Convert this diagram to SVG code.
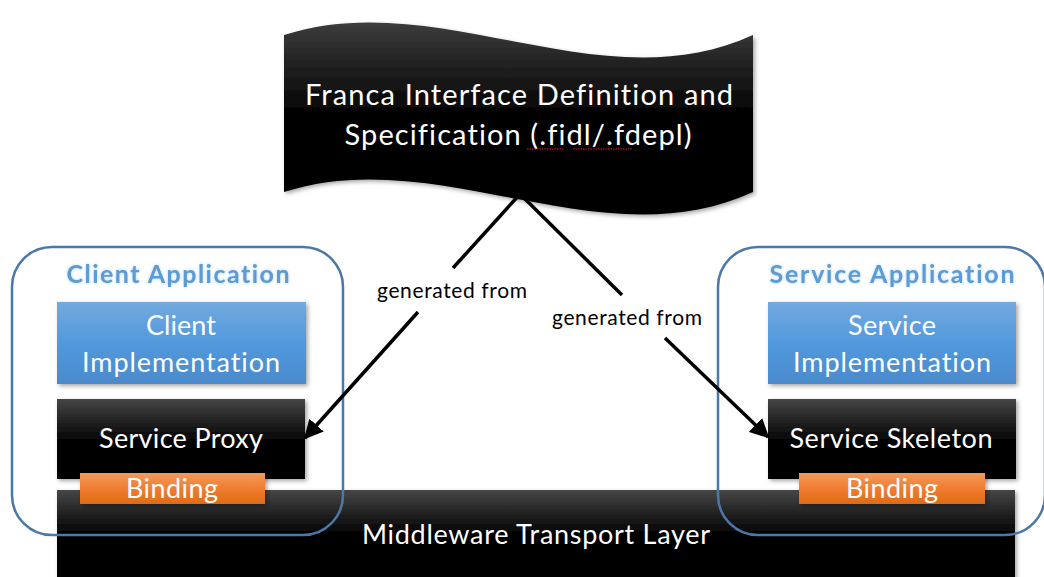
<svg xmlns="http://www.w3.org/2000/svg" width="1044" height="577" viewBox="0 0 1044 577">
  <defs>
    <linearGradient id="gDark" x1="0" y1="0" x2="0" y2="1">
      <stop offset="0" stop-color="#454545"/>
      <stop offset="0.55" stop-color="#000"/>
      <stop offset="1" stop-color="#000"/>
    </linearGradient>
    <linearGradient id="gWave" x1="0" y1="0" x2="0" y2="1">
      <stop offset="0" stop-color="#3c3c3c"/>
      <stop offset="0.5" stop-color="#000"/>
      <stop offset="1" stop-color="#000"/>
    </linearGradient>
    <linearGradient id="gMid" x1="0" y1="0" x2="0" y2="1">
      <stop offset="0" stop-color="#464646"/>
      <stop offset="0.5" stop-color="#000"/>
      <stop offset="1" stop-color="#000"/>
    </linearGradient>
    <linearGradient id="gBlue" x1="0" y1="0" x2="0" y2="1">
      <stop offset="0" stop-color="#73a9de"/>
      <stop offset="0.5" stop-color="#5199dd"/>
      <stop offset="1" stop-color="#4a8acc"/>
    </linearGradient>
    <linearGradient id="gOrange" x1="0" y1="0" x2="0" y2="1">
      <stop offset="0" stop-color="#f49a5c"/>
      <stop offset="0.5" stop-color="#f07d30"/>
      <stop offset="1" stop-color="#e06b15"/>
    </linearGradient>
    <filter id="shadow" x="-10%" y="-10%" width="125%" height="130%">
      <feDropShadow dx="2" dy="2" stdDeviation="2" flood-color="#000" flood-opacity="0.35"/>
    </filter>
    <filter id="glow" x="-10%" y="-30%" width="120%" height="160%">
      <feGaussianBlur in="SourceAlpha" stdDeviation="1.5" result="b"/>
      <feFlood flood-color="#5b9bd5" flood-opacity="0.45"/>
      <feComposite in2="b" operator="in" result="g"/>
      <feMerge><feMergeNode in="g"/><feMergeNode in="SourceGraphic"/></feMerge>
    </filter>
    <marker id="arrow" viewBox="0 0 10 10" refX="9" refY="5" markerWidth="5.5" markerHeight="5.5" orient="auto" markerUnits="strokeWidth">
      <path d="M0,0 L10,5 L0,10 Z" fill="#000"/>
    </marker>
    <style>
      text { font-family: Lato, "Open Sans", "Liberation Sans", sans-serif; font-variant-ligatures: none; }
      .w { fill: #fff; text-anchor: middle; }
      .big { font-size: 29px; }
      .mid { font-size: 27px; }
      .title { fill: #5b9bd5; font-size: 25px; font-weight: bold; text-anchor: middle; }
      .lbl { fill: #000; font-size: 21px; text-anchor: middle; }
      .app { fill: none; stroke: #4a78a8; stroke-width: 2.5; }
      .conn { stroke: #000; stroke-width: 3.5; fill: none; }
      .squig { stroke: #e02020; stroke-width: 1; stroke-dasharray: 1.5 1; fill: none; }
    </style>
  </defs>

  <rect width="1044" height="577" fill="#fff"/>

  <g id="middleware">
    <rect x="57" y="490" width="958" height="90" fill="url(#gMid)" filter="url(#shadow)"/>
    <text class="w mid" x="536" y="544" textLength="348">Middleware Transport Layer</text>
  </g>

  <g id="franca">
    <path d="M284,35 C440,-15 600,105 753,35 L753,192 C600,262 440,142 284,192 Z" fill="url(#gWave)" filter="url(#shadow)"/>
    <text class="w big" x="519" y="105" textLength="428">Franca Interface Definition and</text>
    <text class="w big" x="518" y="145" textLength="347">Specification (.fidl/.fdepl)</text>
    <path class="squig" d="M527,149 L563,149 M573,149 L633,149"/>
  </g>

  <g id="client-impl">
    <rect x="57" y="302" width="249" height="82" fill="url(#gBlue)" filter="url(#shadow)"/>
    <text class="w mid" x="181" y="335" textLength="70">Client</text>
    <text class="w mid" x="181" y="372" textLength="198">Implementation</text>
  </g>

  <g id="service-proxy">
    <rect x="57" y="399" width="248" height="80" fill="url(#gDark)" filter="url(#shadow)"/>
    <text class="w mid" x="181" y="448" textLength="164">Service Proxy</text>
  </g>

  <g id="client-binding">
    <rect x="80" y="473" width="185" height="31" fill="url(#gOrange)" filter="url(#shadow)"/>
    <text class="w mid" x="172" y="498" textLength="92">Binding</text>
  </g>

  <g id="service-impl">
    <rect x="768" y="302" width="248" height="82" fill="url(#gBlue)" filter="url(#shadow)"/>
    <text class="w mid" x="892" y="335" textLength="88">Service</text>
    <text class="w mid" x="892" y="372" textLength="198">Implementation</text>
  </g>

  <g id="service-skeleton">
    <rect x="768" y="399" width="248" height="80" fill="url(#gDark)" filter="url(#shadow)"/>
    <text class="w mid" x="891" y="448" textLength="203">Service Skeleton</text>
  </g>

  <g id="service-binding">
    <rect x="799" y="473" width="186" height="31" fill="url(#gOrange)" filter="url(#shadow)"/>
    <text class="w mid" x="892" y="498" textLength="92">Binding</text>
  </g>

  <g id="client-application">
    <rect class="app" x="12" y="247" width="331" height="288" rx="40" ry="40"/>
    <text class="title" x="178" y="283" textLength="223" filter="url(#glow)">Client Application</text>
  </g>

  <g id="service-application">
    <rect class="app" x="718" y="247" width="327" height="288" rx="40" ry="40"/>
    <text class="title" x="892" y="283" textLength="245" filter="url(#glow)">Service Application</text>
  </g>

  <g id="connectors">
    <line class="conn" x1="520" y1="194" x2="453" y2="268"/>
    <line class="conn" x1="418" y1="312" x2="305" y2="438" marker-end="url(#arrow)"/>
    <text class="lbl" x="452" y="298" textLength="150">generated from</text>
    <line class="conn" x1="520" y1="194" x2="622" y2="295"/>
    <line class="conn" x1="665" y1="338" x2="768" y2="437" marker-end="url(#arrow)"/>
    <text class="lbl" x="627" y="325" textLength="150">generated from</text>
  </g>
</svg>
